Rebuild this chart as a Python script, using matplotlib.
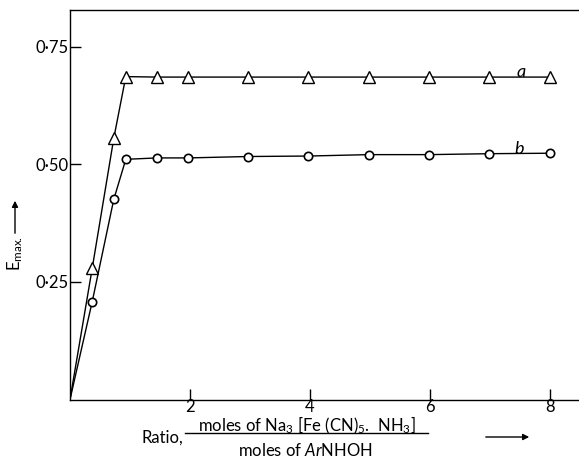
import matplotlib
matplotlib.use("Agg")
import matplotlib.pyplot as plt
from matplotlib.lines import Line2D

plt.rcParams['font.family'] = ['Lato', 'DejaVu Sans']
plt.rcParams['mathtext.fontset'] = 'custom'
plt.rcParams['mathtext.rm'] = 'Lato'
plt.rcParams['mathtext.it'] = 'Lato:italic'

# --- data: ratio of moles vs maximum extinction ---
ratio = [0.37, 0.73, 0.93, 1.45, 1.97, 2.97, 3.97, 4.98, 5.98, 6.99, 8.0]
emax_a = [0.279, 0.556, 0.687, 0.686, 0.686, 0.686, 0.686, 0.686, 0.686, 0.686, 0.686]
emax_b = [0.208, 0.426, 0.511, 0.514, 0.514, 0.517, 0.518, 0.521, 0.521, 0.523, 0.524]
yticks = [0.25, 0.50, 0.75]
ytick_labels = ['0·25', '0·50', '0·75']
xticks = [2, 4, 6, 8]

fig = plt.figure(figsize=(5.79, 4.58), dpi=100)
ax = fig.add_axes([70/579, 1 - 399.5/458, 1 - 70/579, (399.5 - 10)/458])
ax.set_xlim(0, 509/60)
ax.set_ylim(0, 389.5/470)

# both curves start at the origin
ax.plot([0] + ratio, [0] + emax_a, color='black', lw=1.0)
ax.plot([0] + ratio, [0] + emax_b, color='black', lw=1.0)
ax.plot(ratio, emax_a, ls='none', marker='^', ms=8.5, mfc='white', mec='black', mew=1.0)
ax.plot(ratio, emax_b, ls='none', marker='o', ms=6, mfc='white', mec='black', mew=1.2)
ax.text(7.52, 0.697, 'a', style='italic', fontsize=13, ha='center', va='center')
ax.text(7.48, 0.534, 'b', style='italic', fontsize=13, ha='center', va='center')

ax.spines['right'].set_visible(False)
for s in ['left', 'bottom', 'top']:
    ax.spines[s].set_linewidth(1.0)
ax.set_yticks(yticks)
ax.set_yticklabels(ytick_labels, fontsize=12)
ax.set_xticks(xticks)
ax.set_xticklabels([str(t) for t in xticks], fontsize=12)
ax.tick_params(direction='in', length=8, width=1.0)
ax.tick_params(axis='y', pad=1)
ax.tick_params(axis='x', pad=0)

# y label with arrow
fig.text(15/579, 1 - 253/458, r'E$_{\rm max.}$', rotation=90, fontsize=12, ha='center', va='center')
fig.add_artist(matplotlib.patches.FancyArrowPatch((15/579, 1 - 236/458), (15/579, 1 - 198/458),
               transform=fig.transFigure, arrowstyle='-|>', mutation_scale=9, lw=1.0, color='black'))

# x label as a fraction
fig.text(183/579, 1 - 438/458, 'Ratio,', fontsize=12, ha='right', va='center')
fig.text(307/579, 1 - 425.5/458, r'moles of Na$_3$ [Fe (CN)$_5$.  NH$_3$]', fontsize=12, ha='center', va='center')
fig.add_artist(Line2D([185/579, 428/579], [1 - 433/458, 1 - 433/458], transform=fig.transFigure, color='black', lw=1.0))
fig.text(305/579, 1 - 450/458, r'moles of $\it{Ar}$NHOH', fontsize=12, ha='center', va='center')
fig.add_artist(matplotlib.patches.FancyArrowPatch((483/579, 1 - 437/458), (532/579, 1 - 437/458),
               transform=fig.transFigure, arrowstyle='-|>', mutation_scale=9, lw=1.0, color='black'))

fig.savefig('out.png', dpi=100)
